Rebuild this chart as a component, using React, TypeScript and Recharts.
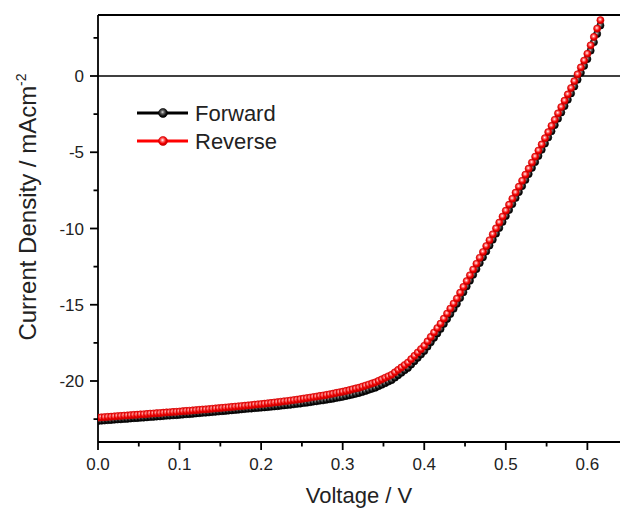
import React from 'react';
import { LineChart, Line, XAxis, YAxis, ReferenceLine } from 'recharts';

const voltage = [
  0, 0.004, 0.008, 0.012, 0.016, 0.02, 0.024, 0.028, 0.032, 0.036,
  0.04, 0.044, 0.048, 0.052, 0.056, 0.06, 0.064, 0.068, 0.072, 0.076,
  0.08, 0.084, 0.088, 0.092, 0.096, 0.1, 0.104, 0.108, 0.112, 0.116,
  0.12, 0.124, 0.128, 0.132, 0.136, 0.14, 0.144, 0.148, 0.152, 0.156,
  0.16, 0.164, 0.168, 0.172, 0.176, 0.18, 0.184, 0.188, 0.192, 0.196,
  0.2, 0.204, 0.208, 0.212, 0.216, 0.22, 0.224, 0.228, 0.232, 0.236,
  0.24, 0.244, 0.248, 0.252, 0.256, 0.26, 0.264, 0.268, 0.272, 0.276,
  0.28, 0.284, 0.288, 0.292, 0.296, 0.3, 0.304, 0.308, 0.312, 0.316,
  0.32, 0.324, 0.328, 0.332, 0.336, 0.34, 0.344, 0.348, 0.352, 0.356,
  0.36, 0.364, 0.368, 0.372, 0.376, 0.38, 0.384, 0.388, 0.392, 0.396,
  0.4, 0.404, 0.408, 0.412, 0.416, 0.42, 0.424, 0.428, 0.432, 0.436,
  0.44, 0.444, 0.448, 0.452, 0.456, 0.46, 0.464, 0.468, 0.472, 0.476,
  0.48, 0.484, 0.488, 0.492, 0.496, 0.5, 0.504, 0.508, 0.512, 0.516,
  0.52, 0.524, 0.528, 0.532, 0.536, 0.54, 0.544, 0.548, 0.552, 0.556,
  0.56, 0.564, 0.568, 0.572, 0.576, 0.58, 0.584, 0.588, 0.592, 0.596,
  0.6, 0.604, 0.608, 0.612, 0.616,
];

const forwardJ = [
  -22.62, -22.6, -22.59, -22.57, -22.56, -22.54, -22.52, -22.51, -22.49, -22.48,
  -22.46, -22.44, -22.43, -22.41, -22.4, -22.38, -22.36, -22.35, -22.33, -22.32,
  -22.3, -22.28, -22.27, -22.25, -22.24, -22.22, -22.2, -22.18, -22.17, -22.15,
  -22.13, -22.11, -22.09, -22.08, -22.06, -22.04, -22.02, -22.0, -21.98, -21.96,
  -21.94, -21.92, -21.9, -21.88, -21.86, -21.84, -21.82, -21.81, -21.78, -21.77,
  -21.75, -21.73, -21.71, -21.69, -21.67, -21.65, -21.62, -21.6, -21.58, -21.56,
  -21.53, -21.5, -21.48, -21.44, -21.42, -21.39, -21.35, -21.33, -21.29, -21.27,
  -21.23, -21.19, -21.16, -21.11, -21.08, -21.04, -20.99, -20.94, -20.89, -20.84,
  -20.79, -20.72, -20.65, -20.58, -20.51, -20.44, -20.34, -20.24, -20.14, -20.04,
  -19.94, -19.78, -19.62, -19.46, -19.3, -19.14, -18.92, -18.7, -18.48, -18.26,
  -18.04, -17.75, -17.46, -17.17, -16.88, -16.59, -16.26, -15.93, -15.6, -15.27,
  -14.94, -14.56, -14.18, -13.8, -13.42, -13.04, -12.66, -12.27, -11.89, -11.5,
  -11.12, -10.73, -10.34, -9.96, -9.57, -9.18, -8.79, -8.4, -8.0, -7.61,
  -7.22, -6.82, -6.43, -6.03, -5.64, -5.24, -4.84, -4.43, -4.03, -3.62,
  -3.22, -2.8, -2.39, -1.97, -1.56, -1.14, -0.69, -0.24, 0.21, 0.66,
  1.11, 1.66, 2.21, 2.76, 3.31,
];

const reverseJ = [
  -22.4, -22.38, -22.37, -22.35, -22.34, -22.32, -22.3, -22.29, -22.27, -22.26,
  -22.24, -22.22, -22.21, -22.19, -22.18, -22.16, -22.14, -22.13, -22.11, -22.1,
  -22.08, -22.06, -22.05, -22.03, -22.02, -22.0, -21.98, -21.96, -21.95, -21.93,
  -21.91, -21.89, -21.87, -21.86, -21.84, -21.82, -21.8, -21.78, -21.76, -21.74,
  -21.72, -21.7, -21.68, -21.66, -21.64, -21.62, -21.6, -21.58, -21.55, -21.53,
  -21.51, -21.49, -21.46, -21.44, -21.41, -21.39, -21.36, -21.33, -21.31, -21.28,
  -21.25, -21.22, -21.19, -21.15, -21.12, -21.09, -21.05, -21.02, -20.98, -20.95,
  -20.91, -20.87, -20.83, -20.78, -20.74, -20.7, -20.65, -20.6, -20.54, -20.49,
  -20.44, -20.37, -20.3, -20.23, -20.16, -20.09, -19.99, -19.89, -19.79, -19.69,
  -19.59, -19.43, -19.27, -19.11, -18.95, -18.79, -18.57, -18.35, -18.13, -17.91,
  -17.69, -17.4, -17.11, -16.82, -16.53, -16.24, -15.91, -15.58, -15.25, -14.92,
  -14.59, -14.21, -13.83, -13.45, -13.07, -12.69, -12.31, -11.92, -11.54, -11.15,
  -10.77, -10.38, -9.99, -9.61, -9.22, -8.83, -8.44, -8.05, -7.65, -7.26,
  -6.87, -6.47, -6.08, -5.68, -5.29, -4.89, -4.49, -4.08, -3.68, -3.27,
  -2.87, -2.45, -2.04, -1.62, -1.21, -0.79, -0.34, 0.11, 0.56, 1.01,
  1.46, 2.01, 2.56, 3.11, 3.66,
];

const xTicks = [0, 0.05, 0.1, 0.15, 0.2, 0.25, 0.3, 0.35, 0.4, 0.45, 0.5, 0.55, 0.6];
const yTicks = [-22.5, -20, -17.5, -15, -12.5, -10, -7.5, -5, -2.5, 0, 2.5];
const xDomain = [0, 0.64];
const yDomain = [-24, 4];
const seriesNames = ['Forward', 'Reverse'];
const xTitle = 'Voltage / V';
const yTitle = 'Current Density / mAcm';
const yTitleSup = '-2';

const data = voltage.map((v, i) => ({ v, fwd: forwardJ[i], rev: reverseJ[i] }));

const FONT = '"Liberation Sans", Arial, sans-serif';
const MAJOR = 8;
const MINOR = 4.5;

const XTick = (props: any) => {
  const { x, y, payload } = props;
  const axisY = y - 16;
  const val = payload.value as number;
  const major = Math.abs(val * 10 - Math.round(val * 10)) < 1e-6;
  return (
    <g>
      <line x1={x} x2={x} y1={axisY} y2={axisY + (major ? MAJOR : MINOR)} stroke="#000" strokeWidth={1.8} />
      {major && (
        <text x={x} y={y} dy="0.71em" textAnchor="middle" fontSize={17} fill="#222" fontFamily={FONT}>
          {val.toFixed(1)}
        </text>
      )}
    </g>
  );
};

const YTick = (props: any) => {
  const { x, y, payload } = props;
  const axisX = x + 14;
  const val = payload.value as number;
  const major = Math.abs(val / 5 - Math.round(val / 5)) < 1e-6;
  return (
    <g>
      <line x1={axisX} x2={axisX - (major ? MAJOR : MINOR)} y1={y} y2={y} stroke="#000" strokeWidth={1.8} />
      {major && (
        <text x={x} y={y} dy="0.355em" textAnchor="end" fontSize={17} fill="#222" fontFamily={FONT}>
          {String(val)}
        </text>
      )}
    </g>
  );
};

export default function App() {
  return (
    <div style={{ position: 'absolute', left: 0, top: 0, width: 621, height: 510, background: '#fff' }}>
      <svg width={0} height={0} style={{ position: 'absolute' }}>
        <defs>
          <radialGradient id="ballRed" cx="45%" cy="40%" r="60%">
            <stop offset="0%" stopColor="#ffffff" />
            <stop offset="30%" stopColor="#ff7070" />
            <stop offset="65%" stopColor="#f00000" />
            <stop offset="100%" stopColor="#c00000" />
          </radialGradient>
          <radialGradient id="ballBlack" cx="45%" cy="40%" r="60%">
            <stop offset="0%" stopColor="#dddddd" />
            <stop offset="30%" stopColor="#666666" />
            <stop offset="70%" stopColor="#111111" />
            <stop offset="100%" stopColor="#000000" />
          </radialGradient>
        </defs>
      </svg>
      <LineChart width={621} height={510} data={data} margin={{ top: 15, right: 1, left: 0, bottom: 0 }}>
        <XAxis
          dataKey="v"
          type="number"
          domain={xDomain}
          ticks={xTicks}
          allowDataOverflow
          height={68}
          tickLine={false}
          tickSize={8}
          tickMargin={8}
          tick={<XTick />}
          interval={0}
          axisLine={{ stroke: '#000', strokeWidth: 1.8 }}
          label={{ value: xTitle, position: 'insideBottom', offset: 7, fontSize: 22, fill: '#222', fontFamily: FONT }}
        />
        <YAxis
          type="number"
          domain={yDomain}
          ticks={yTicks}
          allowDataOverflow
          width={98}
          tickLine={false}
          tickSize={8}
          tickMargin={6}
          tick={<YTick />}
          interval={0}
          axisLine={{ stroke: '#000', strokeWidth: 1.8 }}
        />
        <ReferenceLine y={4} stroke="#000" strokeWidth={2} />
        <ReferenceLine y={0} stroke="#000" strokeWidth={1.6} />
        <Line
          type="linear"
          dataKey="fwd"
          name={seriesNames[0]}
          stroke="#000"
          strokeWidth={2}
          dot={{ r: 3.6, fill: 'url(#ballBlack)', stroke: '#000', strokeWidth: 0.6 }}
          isAnimationActive={false}
        />
        <Line
          type="linear"
          dataKey="rev"
          name={seriesNames[1]}
          stroke="#ff0000"
          strokeWidth={2}
          dot={{ r: 3.6, fill: 'url(#ballRed)', stroke: '#d00000', strokeWidth: 0.6 }}
          isAnimationActive={false}
        />
      </LineChart>
      <svg width={621} height={510} style={{ position: 'absolute', left: 0, top: 0, pointerEvents: 'none' }}>
        <text
          x={36}
          y={207}
          transform="rotate(-90, 36, 207)"
          textAnchor="middle"
          fontSize={24}
          fill="#222"
          fontFamily={FONT}
        >
          {yTitle}
          <tspan fontSize={14} dy={-10}>{yTitleSup}</tspan>
        </text>
        <g>
          <line x1={137} x2={188} y1={113} y2={113} stroke="#000" strokeWidth={3} />
          <circle cx={163} cy={113} r={4.5} fill="url(#ballBlack)" stroke="#000" strokeWidth={0.6} />
          <text x={195} y={120.5} fontSize={22} fill="#222" fontFamily={FONT}>{seriesNames[0]}</text>
          <line x1={137} x2={188} y1={141} y2={141} stroke="#ff0000" strokeWidth={3} />
          <circle cx={163} cy={141} r={4.5} fill="url(#ballRed)" stroke="#d00000" strokeWidth={0.6} />
          <text x={195} y={148.5} fontSize={22} fill="#222" fontFamily={FONT}>{seriesNames[1]}</text>
        </g>
      </svg>
    </div>
  );
}
